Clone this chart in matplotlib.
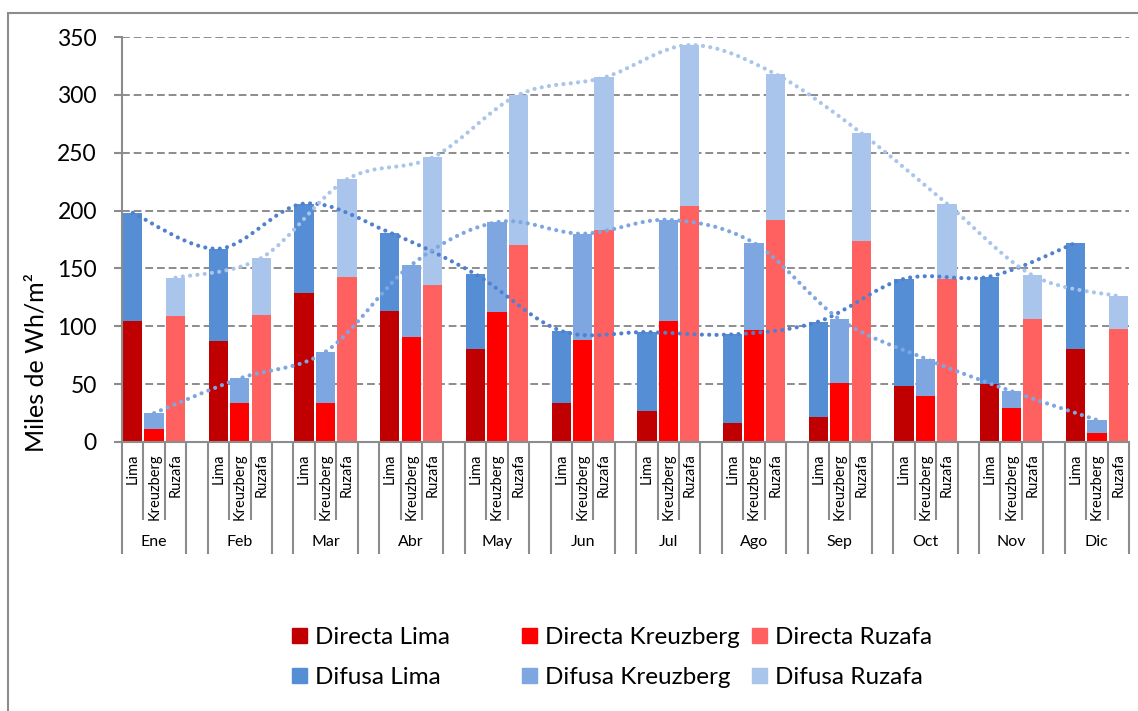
import numpy as np
import matplotlib
matplotlib.use("Agg")
import matplotlib.pyplot as plt
from matplotlib.path import Path
from matplotlib.patches import PathPatch, Rectangle, Patch

plt.rcParams['font.family'] = ['Lato', 'DejaVu Sans']

meses = ["Ene", "Feb", "Mar", "Abr", "May", "Jun", "Jul", "Ago", "Sep", "Oct", "Nov", "Dic"]
sitios = ["Lima", "Kreuzberg", "Ruzafa"]

# miles de Wh/m2
directa_lima = [105, 87, 129, 113, 80, 34, 27, 16, 22, 48, 50, 80]
difusa_lima = [93, 80, 77, 68, 65, 62, 68, 77, 82, 93, 93, 92]
directa_kreuzberg = [11, 34, 34, 91, 112, 88, 105, 97, 51, 40, 29, 8]
difusa_kreuzberg = [14, 21, 44, 62, 78, 92, 87, 75, 55, 32, 15, 11]
directa_ruzafa = [109, 110, 143, 136, 170, 183, 204, 192, 174, 141, 106, 98]
difusa_ruzafa = [33, 49, 84, 110, 130, 132, 139, 126, 93, 65, 38, 28]

series = [
    ("Lima", directa_lima, difusa_lima, "#C00000", "#558ED5", "#4F81CE"),
    ("Kreuzberg", directa_kreuzberg, difusa_kreuzberg, "#FF0000", "#7EA6E0", "#7EA6E0"),
    ("Ruzafa", directa_ruzafa, difusa_ruzafa, "#FF6161", "#A9C5EB", "#A9C5EB"),
]

gris = "#8C8C8C"
W, H = 1138, 711


def curva(xs, ys):
    # linea suavizada tipo Excel (Catmull-Rom -> Bezier)
    pts = np.column_stack([xs, ys]).astype(float)
    n = len(pts)
    verts = [pts[0]]
    codes = [Path.MOVETO]
    for i in range(n - 1):
        p0 = pts[i - 1] if i > 0 else pts[i]
        p1 = pts[i]
        p2 = pts[i + 1]
        p3 = pts[i + 2] if i + 2 < n else pts[i + 1]
        verts += [p1 + (p2 - p0) / 6, p2 - (p3 - p1) / 6, p2]
        codes += [Path.CURVE4] * 3
    return Path(verts, codes)


fig = plt.figure(figsize=(W / 100, H / 100), dpi=100)
ax = fig.add_axes([122 / W, 1 - 442 / H, (1129 - 122) / W, (442 - 37) / H])

mes_idx = np.arange(len(meses))
handles_dir = []
handles_dif = []
for j, (nombre, dire, difu, c_dir, c_dif, c_lin) in enumerate(series):
    x = mes_idx * 4 + j
    dire = np.array(dire)
    difu = np.array(difu)
    ax.bar(x, dire, width=0.9, color=c_dir, zorder=2)
    ax.bar(x, difu, width=0.9, bottom=dire, color=c_dif, zorder=2)
    total = dire + difu
    linea = PathPatch(curva(x, total), fill=False, edgecolor=c_lin, lw=3,
                      linestyle=(0, (0.01, 1.75)), capstyle='round', zorder=3)
    ax.add_patch(linea)
    handles_dir.append(Patch(color=c_dir, label="Directa " + nombre))
    handles_dif.append(Patch(color=c_dif, label="Difusa " + nombre))

ax.set_xlim(-0.5, len(meses) * 4 - 1.5)
ax.set_ylim(0, 350)
ax.set_yticks(np.arange(0, 351, 50))
ax.tick_params(axis='y', labelsize=16.5, length=6, width=1.5, color=gris, pad=12)
ax.yaxis.grid(True, linestyle=(0, (4, 2)), color=gris, lw=1.4)
ax.set_axisbelow(True)
for s in ["top", "right"]:
    ax.spines[s].set_visible(False)
for s in ["left", "bottom"]:
    ax.spines[s].set_color(gris)
    ax.spines[s].set_linewidth(1.5)

# etiquetas de categorias
pos = [m * 4 + j for m in range(len(meses)) for j in range(3)]
ax.set_xticks(pos, [s for m in meses for s in sitios], rotation=90, fontsize=10.5)
ax.tick_params(axis='x', length=0, pad=8)

trans = ax.get_xaxis_transform()
largas = [m * 4 + k for m in range(len(meses)) for k in (-0.5, 2.5)]
cortas = [m * 4 + k for m in range(len(meses)) for k in (0.5, 1.5)]
ax.vlines(largas, -0.276, 0, transform=trans, clip_on=False, color=gris, lw=1.5)
ax.vlines(cortas, -0.193, 0, transform=trans, clip_on=False, color=gris, lw=1.5)
for m, mes in enumerate(meses):
    ax.text(m * 4 + 1, -0.247, mes, transform=trans, ha='center', va='center', fontsize=11.5)

fig.text(36 / W, 1 - 362 / H, "Miles de Wh/m²", rotation=90, ha='center', va='center', fontsize=18)

# leyenda: una columna por sitio
cols_x = [292, 522, 752]
for j in range(3):
    fig.legend(handles=[handles_dir[j], handles_dif[j]], loc='upper left',
               bbox_to_anchor=(cols_x[j] / W, 1 - 627 / H), frameon=False,
               fontsize=17.5, borderpad=0, borderaxespad=0, handlelength=0.6,
               handleheight=0.6, handletextpad=0.35, labelspacing=0.78)

# borde del area del grafico
fig.patches.append(Rectangle((8 / W, -0.05), 1.0, 1 - 13 / H + 0.05, transform=fig.transFigure,
                             fill=False, edgecolor=gris, lw=1.5))

fig.savefig("out.png", dpi=100)
